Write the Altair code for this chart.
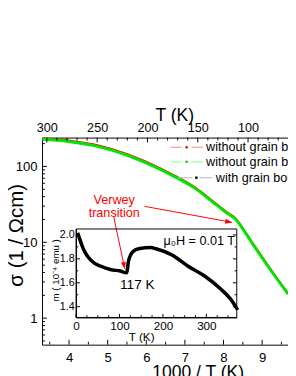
import altair as alt
import pandas as pd

# ---------------- data ----------------
# main panel: conductivity vs 1000/T
inv_T = [3.303, 3.982, 4.737, 5.493, 5.996, 6.499, 7.255, 7.809, 8.136, 8.313, 8.514, 8.816, 9.269, 9.672]
sigma_green = [229.9, 213.5, 184.3, 141.3, 111.5, 84.3, 51.8, 31.3, 23.3, 20.1, 14.6, 8.55, 3.97, 2.07]
sigma_red = [240.0, 223.0, 193.0, 148.0, 116.5, 88.0, 54.0, 32.7, 24.3, 21.0, 15.3, 8.95, 4.15, 2.16]

# inset: magnetic moment vs T
inset_T = [5, 9.6, 13.4, 19.5, 26.9, 41.9, 56.7, 79, 101.5, 116.5, 118.5, 120, 124, 131, 146, 172, 184, 221, 258, 296, 333, 355, 370]
inset_m = [2.004, 1.955, 1.914, 1.863, 1.820, 1.765, 1.739, 1.711, 1.698, 1.684, 1.72, 1.765, 1.820, 1.861, 1.887, 1.895, 1.885, 1.833, 1.739, 1.657, 1.548, 1.467, 1.386]

# ticks
bottom_major = [4, 5, 6, 7, 8, 9]
bottom_minor = [3.5, 4.5, 5.5, 6.5, 7.5, 8.5, 9.5]
left_major = [1, 10, 100]
left_minor = [0.5, 0.6, 0.7, 0.8, 0.9, 2, 3, 4, 5, 6, 7, 8, 9, 20, 30, 40, 50, 60, 70, 80, 90, 200]
top_major = [300, 250, 200, 150, 100]
top_minor = [290, 280, 270, 260, 240, 230, 220, 210, 190, 180, 170, 160, 140, 130, 120, 110, 90, 80, 70]
inset_x_major = [0, 100, 200, 300]
inset_x_minor = [25, 50, 75, 125, 150, 175, 225, 250, 275, 325, 350]
inset_y_major = [1.4, 1.6, 1.8, 2.0]
inset_y_minor = [1.5, 1.7, 1.9]

legend_labels = ["without grain boundary (a)", "without grain boundary (b)", "with grain boundary"]
legend_sigma = [178.9, 114.9, 71.0]
legend_dash = ["#ff9a9a", "#9aff9a", "#c0c0c0"]
legend_dot = ["#ff0000", "#00dd00", "#000000"]
legend_a0 = [6.625, 6.625, 6.832]
legend_a1 = [6.92, 6.92, 7.185]
legend_dotx = [7.045, 7.045, 7.297]
legend_b0 = [7.17, 7.17, 7.38]
legend_b1 = [7.463, 7.463, 7.708]
legend_tx = [7.549, 7.549, 7.80]

verwey_text = ["Verwey", "transition"]
verwey_x = [5.17, 5.17]
verwey_s = [36.3, 24.0]

arrow_x = [5.955, 5.154]
arrow_s = [29.8, 22.0]
arrow_x2 = [8.222, 5.443]
arrow_s2 = [18.3, 4.47]
arrow_ang = [10.4, 78.0]

W, H = 253, 213
FONT = "Liberation Sans"

XS = alt.Scale(domain=[3.30, 9.67], nice=False, zero=False)
YS = alt.Scale(type="log", domain=[0.447, 240], nice=False)
TS = alt.Scale(domain=[60.3, 304.8], reverse=True, nice=False, zero=False)
IX = alt.Scale(domain=[0, 370], range=[35, 200.3], nice=False, zero=False)
IY = alt.Scale(domain=[1.31, 2.05], range=[185, 94], nice=False, zero=False)

x_axis = alt.Axis(orient="bottom", values=bottom_major, tickSize=0, labelPadding=6, labelFontSize=13.5,
                  labelFlush=False, title="1000 / T (K)", titleFontSize=18, titleX=160, titleY=34,
                  titleBaseline="alphabetic", titleAnchor="middle")
y_axis = alt.Axis(orient="left", values=left_major, format=".0f", tickSize=0, labelPadding=5, labelFontSize=13.5,
                  title="σ (1 / Ωcm)", titleFontSize=21, titleX=-20, titleY=100,
                  titleBaseline="alphabetic", titleAngle=270)
t_axis = alt.Axis(orient="top", values=top_major, tickSize=0, labelPadding=3, labelFontSize=13,
                  labelFlush=False, title="T (K)", titleFontSize=18, titleX=136, titleY=-18,
                  titleBaseline="alphabetic", titleAnchor="middle")
ix_axis = alt.Axis(orient="bottom", offset=-28, values=inset_x_major, tickSize=0, labelPadding=3,
                   labelFontSize=12, labelFlush=False, title="T (K)", titleFontSize=12, titleX=102, titleY=24,
                   titleBaseline="alphabetic", titleAnchor="middle")
iy_axis = alt.Axis(orient="left", offset=-35, values=inset_y_major, format=".1f", tickSize=0, labelPadding=2,
                   labelFontSize=11, title="m ( 10⁻⁴ emu )", titleFontSize=10, titleX=-18, titleY=136,
                   titleBaseline="alphabetic", titleAngle=270)


def MX(f):
    return alt.X(f, scale=XS, axis=x_axis)


def MY(f):
    return alt.Y(f, scale=YS, axis=y_axis)


def IXe(f):
    return alt.X(f, scale=IX, axis=ix_axis)


def IYe(f):
    return alt.Y(f, scale=IY, axis=iy_axis)


# ---------------- main panel ----------------
df_red = pd.DataFrame({"x": inv_T, "s": sigma_red})
df_green = pd.DataFrame({"x": inv_T, "s": sigma_green})

red = alt.Chart(df_red).mark_line(color="#ff0000", strokeWidth=1.3, clip=True, interpolate="monotone").encode(
    x=MX("x:Q"), y=MY("s:Q"))
green = alt.Chart(df_green).mark_line(color="#00e600", strokeWidth=3, clip=True, interpolate="monotone").encode(
    x=MX("x:Q"), y=MY("s:Q"))

bmaj = alt.Chart(pd.DataFrame({"x": bottom_major})).mark_rule(color="black").encode(
    x=MX("x:Q"), y=alt.value(H), y2=alt.value(H - 5))
bmin = alt.Chart(pd.DataFrame({"x": bottom_minor})).mark_rule(color="black", clip=True).encode(
    x=MX("x:Q"), y=alt.value(H), y2=alt.value(H - 3))
lmaj = alt.Chart(pd.DataFrame({"s": left_major})).mark_rule(color="black").encode(
    y=MY("s:Q"), x=alt.value(0), x2=alt.value(5))
lmin = alt.Chart(pd.DataFrame({"s": left_minor})).mark_rule(color="black").encode(
    y=MY("s:Q"), x=alt.value(0), x2=alt.value(3))

ann = alt.Chart(pd.DataFrame({"x": verwey_x, "s": verwey_s, "t": verwey_text})).mark_text(
    color="#ff0000", fontSize=13, align="center", baseline="middle", font=FONT).encode(
    x=MX("x:Q"), y=MY("s:Q"), text="t:N")

df_arrow = pd.DataFrame({"x": arrow_x, "s": arrow_s, "x2": arrow_x2, "s2": arrow_s2, "ang": arrow_ang})
arrow_lines = alt.Chart(df_arrow).mark_rule(color="#ff0000", strokeWidth=1).encode(
    x=MX("x:Q"), y=MY("s:Q"), x2="x2:Q", y2="s2:Q")
arrow_heads = alt.Chart(df_arrow).transform_calculate(x="datum.x2", s="datum.s2").mark_point(
    shape="M0,0L-2,-0.75L-2,0.75Z", filled=True, color="#ff0000", size=49, opacity=1).encode(
    x=MX("x:Q"), y=MY("s:Q"), angle=alt.Angle("ang:Q", scale=None))

df_leg = pd.DataFrame({"label": legend_labels, "s": legend_sigma, "dash": legend_dash, "dot": legend_dot,
                       "a0": legend_a0, "a1": legend_a1, "b0": legend_b0, "b1": legend_b1,
                       "c": legend_dotx, "tx": legend_tx})
leg_a = alt.Chart(df_leg).transform_calculate(x="datum.a0", x2="datum.a1").mark_rule(strokeWidth=1.2).encode(
    x=MX("x:Q"), x2="x2:Q", y=MY("s:Q"), color=alt.Color("dash:N", scale=None))
leg_b = alt.Chart(df_leg).transform_calculate(x="datum.b0", x2="datum.b1").mark_rule(strokeWidth=1.2).encode(
    x=MX("x:Q"), x2="x2:Q", y=MY("s:Q"), color=alt.Color("dash:N", scale=None))
leg_dot = alt.Chart(df_leg).transform_calculate(x="datum.c").mark_point(
    filled=True, size=6, opacity=1, shape="square").encode(
    x=MX("x:Q"), y=MY("s:Q"), color=alt.Color("dot:N", scale=None))
leg_txt = alt.Chart(df_leg).transform_calculate(x="datum.tx").mark_text(
    align="left", baseline="middle", fontSize=13, font=FONT, color="black").encode(
    x=MX("x:Q"), y=MY("s:Q"), text="label:N")

main = alt.layer(red, green, bmaj, bmin, lmaj, lmin, ann, arrow_lines, arrow_heads,
                 leg_a, leg_b, leg_dot, leg_txt)

# ---------------- top temperature axis ----------------
tmaj = alt.Chart(pd.DataFrame({"T": top_major})).mark_rule(color="black").encode(
    x=alt.X("T:Q", scale=TS, axis=t_axis), y=alt.value(0), y2=alt.value(5))
tmin = alt.Chart(pd.DataFrame({"T": top_minor})).mark_rule(color="black").encode(
    x=alt.X("T:Q", scale=TS, axis=t_axis), y=alt.value(0), y2=alt.value(3))
top = alt.layer(tmaj, tmin)

# ---------------- inset ----------------
frame = alt.Chart(pd.DataFrame({"a": [0]})).transform_calculate(
    T="0", T2="370", m="1.31", m2="2.05").mark_rect(fillOpacity=0, stroke="black", strokeWidth=1).encode(
    x=IXe("T:Q"), x2="T2:Q", y=IYe("m:Q"), y2="m2:Q")

df_inset = pd.DataFrame({"T": inset_T, "m": inset_m})
inset_line = alt.Chart(df_inset).mark_line(color="black", strokeWidth=3.6, strokeCap="square",
                                           interpolate="monotone").encode(
    x=IXe("T:Q"), y=IYe("m:Q"))


def xticks(vals, length):
    d = pd.DataFrame({"T": vals})
    return alt.Chart(d).transform_calculate(m="1.31", m2=str(1.31 + length)).mark_rule(color="black").encode(
        x=IXe("T:Q"), y=IYe("m:Q"), y2="m2:Q")


def yticks(vals, length):
    d = pd.DataFrame({"m": vals})
    lft = alt.Chart(d).transform_calculate(T="0", T2=str(length)).mark_rule(color="black").encode(
        y=IYe("m:Q"), x=IXe("T:Q"), x2="T2:Q")
    rgt = alt.Chart(d).transform_calculate(T="370", T2=str(370 - length)).mark_rule(color="black").encode(
        y=IYe("m:Q"), x=IXe("T:Q"), x2="T2:Q")
    return [lft, rgt]


inset_txt1 = alt.Chart(pd.DataFrame({"T": [141], "m": [1.546], "t": ["117 K"]})).mark_text(
    baseline="alphabetic", align="center", font=FONT, color="black", fontSize=14).encode(
    x=IXe("T:Q"), y=IYe("m:Q"), text="t:N")
inset_txt2 = alt.Chart(pd.DataFrame({"T": [366], "m": [1.918], "t": ["μ₀H = 0.01 T"]})).mark_text(
    baseline="alphabetic", align="right", font=FONT, color="black", fontSize=13).encode(
    x=IXe("T:Q"), y=IYe("m:Q"), text="t:N")

inset = alt.layer(frame, inset_line, xticks(inset_x_major, 0.03), xticks(inset_x_minor, 0.018),
                  *yticks(inset_y_major, 9), *yticks(inset_y_minor, 5), inset_txt1, inset_txt2)

chart = alt.layer(main, top, inset).resolve_scale(x="independent", y="independent").properties(
    width=W, height=H, padding={"left": 35, "top": 128, "right": 0, "bottom": 30},
    autosize=alt.AutoSizeParams(type="none")
).configure_view(stroke=None).configure_axis(
    grid=False, domainColor="black", domainWidth=1, labelColor="black", titleColor="black",
    labelFont=FONT, titleFont=FONT, titleFontWeight="normal", ticks=False
).configure_text(font=FONT)

chart.save("out.html", embed_options={"renderer": "svg", "actions": False})
